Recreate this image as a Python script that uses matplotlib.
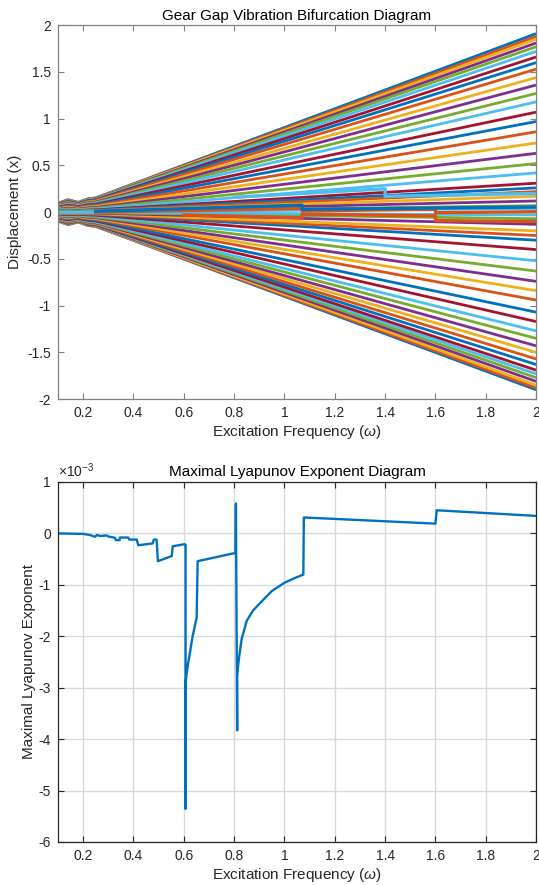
import numpy as np
import matplotlib
matplotlib.use("Agg")
import matplotlib.pyplot as plt

plt.rcParams['font.family'] = ['Liberation Sans', 'DejaVu Sans']
plt.rcParams['mathtext.fontset'] = 'custom'
plt.rcParams['mathtext.it'] = 'Liberation Sans:italic'
plt.rcParams['mathtext.rm'] = 'Liberation Sans'

# MATLAB default colour order
matlab_colors = ['#0072BD', '#D95319', '#EDB120', '#7E2F8E',
                 '#77AC30', '#4DBEEE', '#A2142F']

# --- bifurcation diagram: displacement of each branch at omega = 2 ---
upper_ends = [1.91, 1.88, 1.85, 1.81, 1.77, 1.72, 1.66, 1.60, 1.53, 1.44,
              1.36, 1.27, 1.18, 1.07, 0.97, 0.86, 0.74, 0.63, 0.52, 0.42,
              0.31, 0.26, 0.22, 0.17, 0.12, 0.07, 0.04]
lower_ends = [-1.90, -1.88, -1.85, -1.81, -1.77, -1.73, -1.69, -1.63, -1.57,
              -1.50, -1.43, -1.35, -1.27, -1.17, -1.07, -0.94, -0.84, -0.74,
              -0.63, -0.52, -0.40, -0.30, -0.25, -0.20, -0.13, -0.07, -0.03]
# branch shape: fraction of the end value reached at each knot frequency
branch_omega = [0.1, 0.14, 0.18, 0.22, 0.25, 2.0]
branch_frac = [0.05, 0.07, 0.055, 0.075, 0.08, 1.0]

# a few branches near zero that jump between regimes
center_omega = [[0.25, 1.07, 1.07, 1.6, 1.6, 2.0],
                [0.25, 1.07, 1.07, 2.0],
                [0.8, 1.4, 1.4, 2.0],
                [0.6, 1.07, 1.07, 1.6, 1.6, 2.0]]
center_vals = [[0.0, 0.04, 0.015, 0.03, -0.005, 0.005],
               [0.01, 0.075, 0.03, 0.055],
               [0.16, 0.25, 0.17, 0.2],
               [-0.03, -0.06, -0.02, -0.04, -0.09, -0.1]]
center_colors = ['#D95319', '#0072BD', '#4DBEEE', '#D95319']

# --- maximal Lyapunov exponent (x 1e-3) ---
lyap_omega = [0.1, 0.2, 0.226, 0.247, 0.255, 0.267, 0.293, 0.3, 0.326, 0.33,
              0.345, 0.346, 0.379, 0.383, 0.413, 0.419, 0.452, 0.476, 0.481,
              0.492, 0.497, 0.552, 0.556, 0.603, 0.607, 0.607, 0.607, 0.612,
              0.618, 0.625, 0.635, 0.651, 0.655, 0.805, 0.807, 0.812, 0.812,
              0.815, 0.82, 0.83, 0.85, 0.875, 0.9, 0.95, 1.0, 1.04, 1.075,
              1.077, 1.60, 1.605, 2.0]
lyap_e3 = [0.0, -0.01, -0.03, -0.065, -0.03, -0.05, -0.04, -0.06, -0.085,
           -0.13, -0.13, -0.08, -0.08, -0.12, -0.12, -0.23, -0.21, -0.195,
           -0.12, -0.12, -0.54, -0.44, -0.25, -0.21, -0.22, -5.35, -2.9,
           -2.7, -2.5, -2.3, -2.0, -1.64, -0.54, -0.38, 0.58, -3.83, -2.8,
           -2.6, -2.4, -2.05, -1.7, -1.5, -1.37, -1.12, -0.96, -0.87, -0.8,
           0.31, 0.19, 0.45, 0.34]

fig = plt.figure(figsize=(5.39, 8.85), dpi=100)

# ---------------- top: bifurcation ----------------
ax1 = fig.add_axes([0.1076, 0.549, 0.887, 0.4225])
for ends in (upper_ends, lower_ends):
    for i, e in enumerate(ends):
        ax1.plot(branch_omega, np.array(branch_frac) * e,
                 color=matlab_colors[i % 7], lw=2.0, solid_capstyle='butt')
for xs, ys, c in zip(center_omega, center_vals, center_colors):
    ax1.plot(xs, ys, color=c, lw=2.4)

ax1.set_xlim(0.1, 2)
ax1.set_ylim(-2, 2)
ax1.set_xticks(np.arange(0.2, 2.01, 0.2))
ax1.set_xticklabels(['0.2', '0.4', '0.6', '0.8', '1', '1.2', '1.4', '1.6', '1.8', '2'])
ax1.set_yticks(np.arange(-2, 2.01, 0.5))
ax1.set_yticklabels(['-2', '-1.5', '-1', '-0.5', '0', '0.5', '1', '1.5', '2'])
ax1.set_title('Gear Gap Vibration Bifurcation Diagram', fontsize=11, color='#000000', pad=4)
ax1.set_xlabel(r'Excitation Frequency ($\omega$)', fontsize=11, color='#262626', labelpad=2)
ax1.set_ylabel('Displacement (x)', fontsize=11, color='#262626', labelpad=4)
for s in ax1.spines.values():
    s.set_color('#808080')
    s.set_linewidth(0.9)
ax1.tick_params(direction='in', top=True, right=True, length=4, width=0.8,
                color='#808080', labelsize=10, labelcolor='#262626', pad=5)

# ---------------- bottom: Lyapunov ----------------
ax2 = fig.add_axes([0.1076, 0.0486, 0.887, 0.4068])
ax2.plot(lyap_omega, lyap_e3, color='#0072BD', lw=1.7)
ax2.set_xlim(0.1, 2)
ax2.set_ylim(-6, 1)
ax2.set_xticks(np.arange(0.2, 2.01, 0.2))
ax2.set_xticklabels(['0.2', '0.4', '0.6', '0.8', '1', '1.2', '1.4', '1.6', '1.8', '2'])
ax2.set_yticks(np.arange(-6, 1.01, 1))
ax2.set_yticklabels(['-6', '-5', '-4', '-3', '-2', '-1', '0', '1'])
ax2.grid(True, color='#d9d9d9', lw=1.0)
ax2.set_axisbelow(True)
ax2.set_title('Maximal Lyapunov Exponent Diagram', fontsize=11, color='#000000', pad=4)
ax2.set_xlabel(r'Excitation Frequency ($\omega$)', fontsize=11, color='#262626', labelpad=2)
ax2.set_ylabel('Maximal Lyapunov Exponent', fontsize=11, color='#262626', labelpad=2)
ax2.text(0.0, 1.005, r'$\times$10$^{-3}$', transform=ax2.transAxes,
         fontsize=10, color='#262626', ha='left', va='bottom')
for s in ax2.spines.values():
    s.set_color('#262626')
    s.set_linewidth(0.9)
ax2.tick_params(direction='in', top=True, right=True, length=4, width=0.8,
                color='#262626', labelsize=10, labelcolor='#262626', pad=5)

fig.savefig('out.png', dpi=100)
